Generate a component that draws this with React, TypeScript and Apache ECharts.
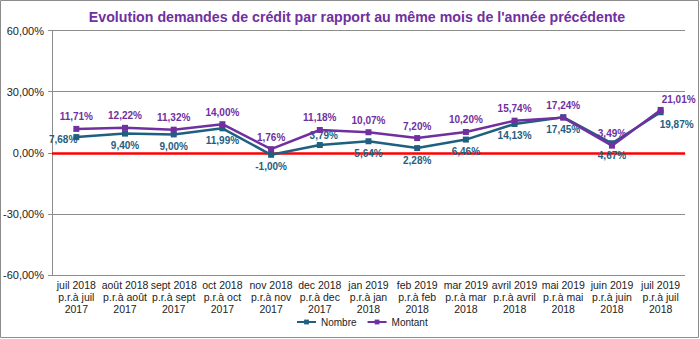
import React, { useEffect, useRef } from "react";
import * as echarts from "echarts";

const categories = [
  "juil 2018\np.r.à juil\n2017",
  "août 2018\np.r.à août\n2017",
  "sept 2018\np.r.à sept\n2017",
  "oct 2018\np.r.à oct\n2017",
  "nov 2018\np.r.à nov\n2017",
  "dec 2018\np.r.à dec\n2017",
  "jan 2019\np.r.à jan\n2018",
  "feb 2019\np.r.à feb\n2018",
  "mar 2019\np.r.à mar\n2018",
  "avril 2019\np.r.à avril\n2018",
  "mai 2019\np.r.à mai\n2018",
  "juin 2019\np.r.à juin\n2018",
  "juil 2019\np.r.à juil\n2018",
];
const nombre = [7.68, 9.4, 9.0, 11.99, -1.0, 3.79, 5.64, 2.28, 6.46, 14.13, 17.45, 4.67, 19.87];
const montant = [11.71, 12.22, 11.32, 14.0, 1.76, 11.18, 10.07, 7.2, 10.2, 15.74, 17.24, 3.49, 21.01];

const fmt = (v: number) => v.toFixed(2).replace(".", ",") + "%";
const FONT = "Liberation Sans, Arial, sans-serif";
const C_NOMBRE = "#1F6080";
const C_MONTANT = "#7030A0";

export default function App() {
  const ref = useRef<HTMLDivElement>(null);
  useEffect(() => {
    if (!ref.current) return;
    const chart = echarts.init(ref.current, undefined, { renderer: "svg" });
    const nombreData = nombre.map((v, i) => {
      const item: any = { value: v };
      if (i === 0) item.label = { position: "left", distance: -4, offset: [0, 2] };
      if (i === 5) item.label = { position: "top", offset: [4, 2] };
      if (i === 12) item.label = { position: "bottom", offset: [16, 0] };
      return item;
    });
    const montantData = montant.map((v, i) => {
      const item: any = { value: v };
      if (i === 12) item.label = { position: "top", offset: [18, 2] };
      return item;
    });
    chart.setOption({
      animation: false,
      backgroundColor: "#ffffff",
      textStyle: { fontFamily: FONT },
      graphic: [
        {
          type: "rect",
          shape: { x: 0.5, y: 0.5, width: 698, height: 337 },
          style: { fill: "none", stroke: "#8c8c8c", lineWidth: 1 },
          silent: true,
        },
        {
          type: "text",
          x: 357,
          y: 17,
          style: {
            text: "Evolution demandes de crédit par rapport au même mois de l'année précédente",
            fill: C_MONTANT,
            font: "bold 14.2px " + FONT,
            textAlign: "center",
            textVerticalAlign: "middle",
          },
        },
      ],
      grid: { left: 51, right: 15, top: 30.5, bottom: 64, containLabel: false },
      legend: {
        bottom: 7,
        left: 291,
        itemWidth: 19,
        itemHeight: 6,
        itemGap: 10,
        textStyle: { fontSize: 10, color: "#222", fontFamily: FONT },
        data: ["Nombre", "Montant"],
      },
      xAxis: {
        type: "category",
        data: categories,
        boundaryGap: true,
        axisLine: { show: true, lineStyle: { color: "#8c8c8c", width: 1 } },
        axisTick: { show: false },
        axisLabel: {
          interval: 0,
          fontSize: 10.5,
          lineHeight: 12,
          color: "#222",
          margin: 4,
          fontFamily: FONT,
        },
      },
      yAxis: {
        type: "value",
        min: -60,
        max: 60,
        interval: 30,
        axisLine: { show: true, lineStyle: { color: "#8c8c8c", width: 1 } },
        axisTick: { show: true, length: 4, lineStyle: { color: "#8c8c8c" } },
        splitLine: { show: true, lineStyle: { color: "#8c8c8c", width: 1 } },
        axisLabel: {
          formatter: (v: number) => fmt(v),
          fontSize: 11,
          color: "#222",
          margin: 8,
          fontFamily: FONT,
        },
      },
      series: [
        {
          name: "Nombre",
          type: "line",
          data: nombreData,
          symbol: "rect",
          symbolSize: 6,
          color: C_NOMBRE,
          lineStyle: { color: C_NOMBRE, width: 2.5 },
          itemStyle: { color: C_NOMBRE },
          label: {
            show: true,
            position: "bottom",
            distance: 4,
            formatter: (p: any) => fmt(p.value),
            color: C_NOMBRE,
            fontSize: 10,
            fontWeight: "bold",
            fontFamily: FONT,
          },
          markLine: {
            silent: true,
            symbol: ["none", "none"],
            label: { show: false },
            lineStyle: { color: "#ff0000", width: 2.5, type: "solid" },
            data: [{ yAxis: 0 }],
            z: 1,
          },
          z: 3,
        },
        {
          name: "Montant",
          type: "line",
          data: montantData,
          symbol: "rect",
          symbolSize: 6,
          color: C_MONTANT,
          lineStyle: { color: C_MONTANT, width: 2.5 },
          itemStyle: { color: C_MONTANT },
          label: {
            show: true,
            position: "top",
            distance: 4,
            formatter: (p: any) => fmt(p.value),
            color: C_MONTANT,
            fontSize: 10,
            fontWeight: "bold",
            fontFamily: FONT,
          },
          z: 4,
        },
      ],
    });
    return () => chart.dispose();
  }, []);
  return (
    <div
      ref={ref}
      style={{ position: "fixed", left: 0, top: 0, width: 700, height: 339 }}
    />
  );
}
